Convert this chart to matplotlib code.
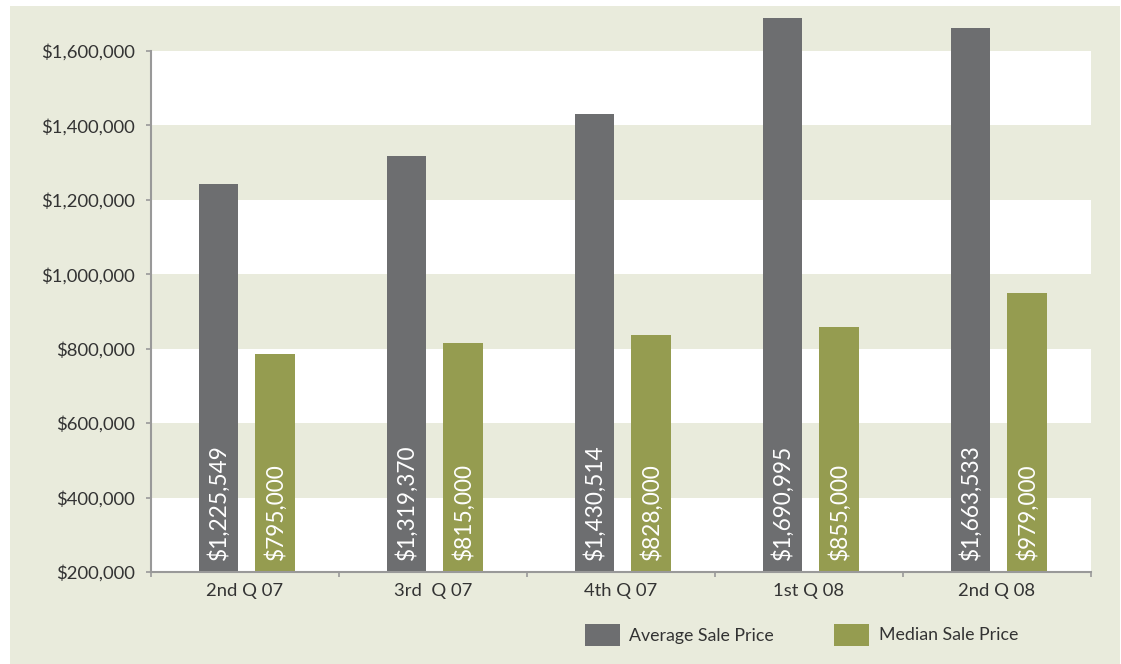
import matplotlib
matplotlib.use("Agg")
import matplotlib.pyplot as plt
from matplotlib.patches import Rectangle
from matplotlib.ticker import FuncFormatter, FixedLocator
import numpy as np

# ---- data ----
categories = ["2nd Q 07", "3rd  Q 07", "4th Q 07", "1st Q 08", "2nd Q 08"]
avg_heights = [1243000, 1318000, 1431000, 1689000, 1662000]      # bar heights as drawn
median_heights = [786000, 815000, 837000, 858000, 950000]
avg_labels = ["$1,225,549", "$1,319,370", "$1,430,514", "$1,690,995", "$1,663,533"]
median_labels = ["$795,000", "$815,000", "$828,000", "$855,000", "$979,000"]
series_names = ["Average Sale Price", "Median Sale Price"]
y_ticks = [200000, 400000, 600000, 800000, 1000000, 1200000, 1400000, 1600000]

# ---- style ----
GRAY = "#6d6e70"
OLIVE = "#959c50"
BEIGE = "#e9ebdc"
TEXT = "#333333"
AXC = "#999999"
FONT = "Lato"
plt.rcParams["font.family"] = [FONT, "DejaVu Sans"]

W, H = 1121, 664
fig = plt.figure(figsize=(W / 100, H / 100), dpi=100, facecolor="white")
fig.patches.append(Rectangle((10 / W, 0), (1120 - 10) / W, (H - 6) / H,
                             transform=fig.transFigure, facecolor=BEIGE,
                             edgecolor="none", zorder=-10))

ax = fig.add_axes([151 / W, 92 / H, 940 / W, 566 / H])
ax.set_facecolor("none")
ax.set_xlim(-0.5, len(categories) - 0.5)
ax.set_ylim(200000, 1720900)

# alternating bands
for lo in (200000, 600000, 1000000, 1400000):
    ax.axhspan(lo, lo + 200000, facecolor="white", edgecolor="none", zorder=0)

x = np.arange(len(categories))
bw = 0.212
off_a, off_m = -0.141, 0.16
ax.bar(x + off_a, avg_heights, width=bw, color=GRAY, zorder=2)
ax.bar(x + off_m, median_heights, width=bw, color=OLIVE, zorder=2)

for offs, labels in ((off_a, avg_labels), (off_m, median_labels)):
    for xi, lab in zip(x + offs, labels):
        ax.annotate(lab, (xi, 200000), xytext=(0, 8.6), textcoords="offset points",
                    rotation=90, ha="center", va="bottom", color="white",
                    fontsize=16.3, fontweight="normal", zorder=3)

# spines
for s in ("top", "right"):
    ax.spines[s].set_visible(False)
ax.spines["left"].set_bounds(200000, 1600000)
for s in ("left", "bottom"):
    ax.spines[s].set_color(AXC)
    ax.spines[s].set_linewidth(1.5)
    ax.spines[s].set_zorder(4)

ax.set_yticks(y_ticks)
ax.yaxis.set_major_formatter(FuncFormatter(lambda v, p: "${:,.0f}".format(v)))
ax.tick_params(axis="y", length=3.6, width=1.2, color=AXC, pad=8,
               labelsize=13.3, labelcolor=TEXT)

ax.xaxis.set_major_locator(FixedLocator(np.arange(-0.5, len(categories), 1.0)))
ax.xaxis.set_major_formatter(FuncFormatter(lambda v, p: ""))
ax.xaxis.set_minor_locator(FixedLocator(x))
ax.set_xticklabels(categories, minor=True)
ax.tick_params(axis="x", which="major", length=3.6, width=1.2, color=AXC)
ax.tick_params(axis="x", which="minor", length=0, pad=8, labelsize=13.3,
               labelcolor=TEXT)

# legend (manual, figure pixel coordinates)
for (px, tx), col, name in zip([(585, 629), (834, 879)], [GRAY, OLIVE], series_names):
    fig.patches.append(Rectangle((px / W, 18 / H), 35 / W, 22 / H,
                                 transform=fig.transFigure, facecolor=col,
                                 edgecolor="none"))
    fig.text(tx / W, 28.5 / H, name, ha="left", va="center", fontsize=12.8,
             color=TEXT)

fig.savefig("out.png", dpi=100, facecolor="white")
